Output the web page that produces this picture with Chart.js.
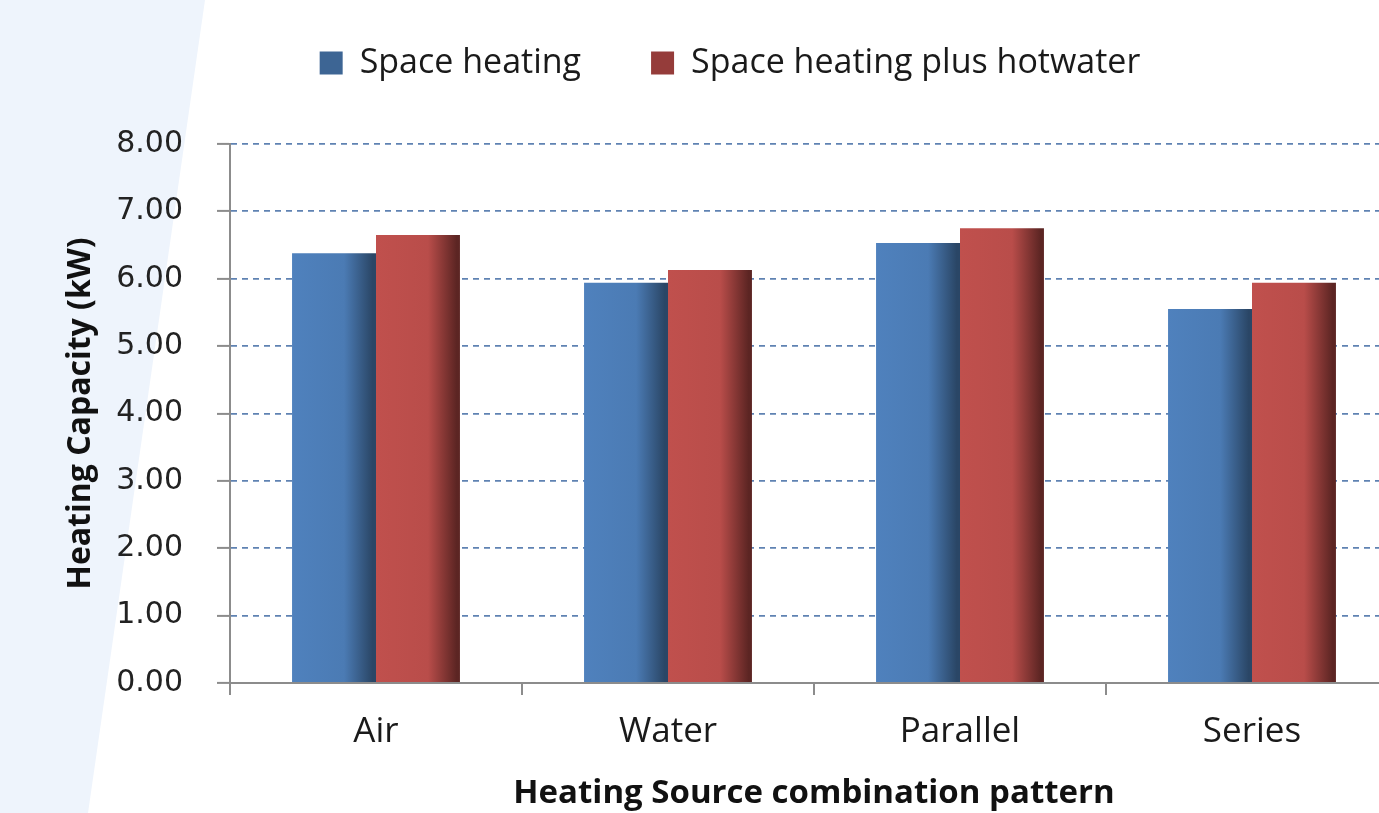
<!DOCTYPE html>
<html>
<head>
<meta charset="utf-8">
<script src="https://cdn.jsdelivr.net/npm/chart.js@4.4.1/dist/chart.umd.min.js"></script>
<style>
  html, body { margin: 0; padding: 0; overflow: hidden; background: #fff; }
  .wrap { position: relative; width: 1400px; height: 813px; }
</style>
</head>
<body>
<div class="wrap"><canvas id="chart"></canvas></div>
<script>
const categories = ['Air', 'Water', 'Parallel', 'Series'];
const spaceHeating = [6.38, 5.94, 6.53, 5.55];
const spaceHeatingHotwater = [6.65, 6.13, 6.75, 5.94];
const yTicks = [0, 1, 2, 3, 4, 5, 6, 7, 8];

// light blue slanted panel on the left, behind everything
const sidePanel = {
  id: 'sidePanel',
  beforeDraw(chart) {
    const { ctx } = chart;
    ctx.save();
    ctx.fillStyle = '#eef4fc';
    ctx.beginPath();
    ctx.moveTo(0, 0);
    ctx.lineTo(205, 0);
    ctx.lineTo(88, chart.height);
    ctx.lineTo(0, chart.height);
    ctx.closePath();
    ctx.fill();
    const a = chart.chartArea;
    ctx.fillStyle = '#fff';
    ctx.fillRect(a.left, a.top, a.right - a.left, a.bottom - a.top);
    ctx.restore();
  }
};

// horizontal shading on each bar: darker towards the right edge
const shades = [
  ['#4f81bd', '#4b7bb4', '#2a4666'],
  ['#c0504d', '#b94d4a', '#5c2523']
];
const barShade = {
  id: 'barShade',
  beforeDatasetsDraw(chart) {
    const { ctx } = chart;
    chart.data.datasets.forEach((ds, di) => {
      chart.getDatasetMeta(di).data.forEach(bar => {
        const x0 = bar.x - bar.width / 2;
        const g = ctx.createLinearGradient(x0, 0, x0 + bar.width, 0);
        g.addColorStop(0, shades[di][0]);
        g.addColorStop(0.62, shades[di][1]);
        g.addColorStop(0.96, shades[di][2]);
        g.addColorStop(1, shades[di][2]);
        bar.options.backgroundColor = g;
      });
    });
  }
};

// fixed height for the legend block so the plot starts where it should
const legendSpace = {
  id: 'legendSpace',
  beforeInit(chart) {
    const fit = chart.legend.fit;
    chart.legend.fit = function () {
      fit.call(this);
      this.height = 168;
    };
  }
};

new Chart(document.getElementById('chart'), {
  type: 'bar',
  data: {
    labels: categories,
    datasets: [
      {
        label: 'Space heating',
        data: spaceHeating,
        // scriptable so each bar gets its own options object
        backgroundColor: () => '#3d6594',
        borderWidth: 0
      },
      {
        label: 'Space heating plus hotwater',
        data: spaceHeatingHotwater,
        backgroundColor: () => '#953c3a',
        borderWidth: 0
      }
    ]
  },
  options: {
    responsive: true,
    maintainAspectRatio: false,
    animation: false,
    layout: { padding: { top: -24, left: 62, right: 2, bottom: 0 } },
    datasets: {
      bar: { barPercentage: 1, categoryPercentage: 0.575 }
    },
    plugins: {
      legend: {
        position: 'top',
        labels: {
          boxWidth: 23,
          boxHeight: 23,
          padding: 70,
          color: '#1a1a1a',
          font: { family: 'Open Sans', size: 34 },
          generateLabels(chart) {
            const colors = ['#3d6594', '#953c3a'];
            return chart.data.datasets.map((ds, i) => ({
              text: ds.label,
              fillStyle: colors[i],
              strokeStyle: colors[i],
              lineWidth: 0,
              fontColor: '#1a1a1a',
              hidden: false,
              datasetIndex: i
            }));
          }
        }
      },
      tooltip: { enabled: false }
    },
    scales: {
      x: {
        grid: {
          offset: true,
          drawOnChartArea: false,
          color: '#8c8c8c',
          tickLength: 12,
          lineWidth: 2
        },
        border: { color: '#8c8c8c', width: 2 },
        ticks: {
          color: '#1a1a1a',
          padding: 16,
          font: { family: 'Open Sans', size: 35 }
        },
        title: {
          display: true,
          text: 'Heating Source combination pattern',
          color: '#111',
          padding: { top: 4, bottom: 0 },
          font: { family: 'Open Sans', size: 33, weight: 'bold' }
        },
        afterFit(scale) { scale.height = 130; }
      },
      y: {
        min: 0,
        max: 8,
        afterBuildTicks(scale) { scale.ticks = yTicks.map(v => ({ value: v })); },
        grid: {
          color: '#5f82b2',
          lineWidth: 1.8,
          tickColor: '#8c8c8c',
          tickLength: 13,
          tickWidth: 2,
          tickBorderDash: []
        },
        border: { color: '#8c8c8c', width: 2, dash: [6, 5] },
        ticks: {
          color: '#222',
          padding: 34,
          font: { family: 'DejaVu Sans', size: 30 },
          callback: v => v.toFixed(2)
        },
        title: {
          display: true,
          text: 'Heating Capacity (kW)',
          color: '#111',
          padding: { top: 0, bottom: 0 },
          font: { family: 'Open Sans', size: 32, weight: 'bold' }
        },
        afterFit(scale) { scale.width = 168; }
      }
    }
  },
  plugins: [sidePanel, barShade, legendSpace]
});
</script>
</body>
</html>
